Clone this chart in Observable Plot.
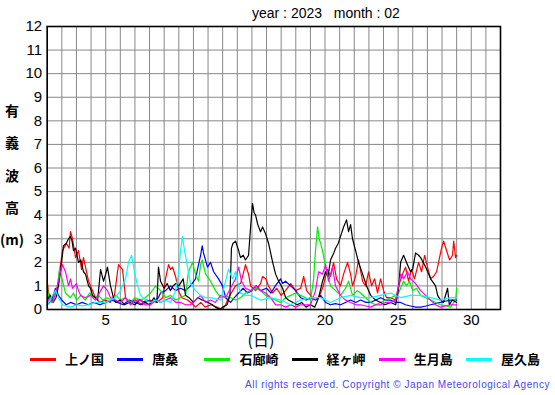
<!DOCTYPE html>
<html><head><meta charset="utf-8">
<script src="https://cdn.jsdelivr.net/npm/d3@7"></script>
<script src="https://cdn.jsdelivr.net/npm/@observablehq/plot@0.6"></script>
<style>
body{margin:0;background:#fff;}
#wrap{position:relative;width:555px;height:395px;overflow:hidden;font-family:"Liberation Sans",Arial,sans-serif;color:#000;}
#title{height:10px;line-height:26px;font-size:14px;white-space:pre;padding-left:252px;box-sizing:border-box;overflow:visible;position:relative;z-index:2;}
#ylab{position:absolute;left:0;top:0;width:24px;font-family:"Noto Sans CJK JP",sans-serif;font-weight:bold;font-size:14px;}
#ylab div{position:absolute;left:0;width:24px;text-align:center;height:20px;line-height:20px;}
#xlab{position:absolute;left:236px;width:50px;top:331px;height:16px;text-align:center;font-family:"Noto Sans CJK JP",sans-serif;font-size:16px;line-height:16px;}
#legend{position:absolute;left:30px;top:349px;display:flex;font-family:"Noto Sans CJK JP",sans-serif;font-weight:bold;font-size:13px;line-height:20px;}
.item{width:87.2px;display:flex;align-items:center;}
.sw{width:26px;height:3px;margin-right:9px;}
#copy{position:absolute;right:5px;top:378px;font-size:10px;letter-spacing:0.55px;color:#4848ee;line-height:14px;white-space:nowrap;}
svg{display:block;}
</style></head>
<body><div id="wrap">
<div id="title"></div>
<div id="chart"></div>
<div id="ylab"></div>
<div id="xlab"></div>
<div id="legend"></div>
<div id="copy"></div>
</div>
<script>
const titleText = "year : 2023   month : 02";
const yLabelChars = ["有", "義", "波", "高", "(m)"];
const xLabelText = "(日)";
const copyright = "All rights reserved. Copyright © Japan Meteorological Agency";
const xTicks = [5, 10, 15, 20, 25, 30];
const yTicks = [0,1,2,3,4,5,6,7,8,9,10,11,12];
const dayGrid = [1,2,3,4,5,6,7,8,9,10,11,12,13,14,15,16,17,18,19,20,21,22,23,24,25,26,27,28,29,30,31,32];
const stations = ["上ノ国", "唐桑", "石廊崎", "経ヶ岬", "生月島", "屋久島"];
const colors = ["#ff0000", "#0000ff", "#00ee00", "#000000", "#ff00ff", "#00ffff"];

// [day, significant wave height (m)]
const kaminokuni = [[1.0,1.2],[1.1,0.7],[1.3,0.5],[1.5,0.6],[1.7,0.9],[1.84,1.6],[2.05,2.5],[2.32,2.8],[2.5,2.6],[2.59,3.3],[2.73,3.0],[2.94,2.2],[3.14,2.5],[3.35,1.7],[3.48,2.2],[3.62,1.8],[3.83,1.2],[4.1,0.8],[4.3,0.5],[4.6,0.3],[5.0,0.4],[5.3,0.3],[5.6,0.6],[5.81,1.6],[5.88,1.9],[6.01,1.8],[6.15,1.7],[6.36,0.5],[6.56,0.3],[7.0,0.4],[7.5,0.2],[8.0,0.4],[8.5,0.3],[8.9,0.5],[9.09,1.3],[9.3,1.9],[9.43,1.7],[9.57,1.8],[9.78,1.4],[9.98,0.8],[10.2,0.5],[10.6,0.4],[11.0,0.2],[11.14,0.1],[11.5,0.3],[11.8,0.1],[12.2,0.2],[12.6,0.1],[12.99,0.0],[13.2,0.2],[13.4,0.5],[13.88,1.0],[14.22,1.1],[14.4,1.5],[14.56,1.9],[14.77,1.5],[14.91,1.0],[15.25,0.8],[15.59,1.1],[15.73,1.4],[15.94,1.3],[16.14,1.0],[16.4,0.7],[16.7,0.9],[17.0,0.6],[17.3,0.8],[17.65,1.1],[17.99,0.8],[18.33,0.9],[18.54,1.4],[18.74,0.8],[19.15,0.5],[19.56,0.5],[19.83,0.9],[20.17,1.7],[20.38,1.4],[20.58,2.0],[20.79,1.3],[21.06,1.0],[21.27,1.5],[21.54,2.0],[21.75,1.5],[21.88,1.0],[22.09,1.4],[22.29,2.1],[22.57,1.2],[22.77,1.0],[22.98,1.6],[23.18,1.0],[23.39,1.3],[23.59,0.7],[23.8,1.3],[24.01,0.8],[24.21,0.5],[24.48,0.5],[24.83,0.4],[25.03,1.0],[25.3,1.5],[25.51,1.8],[25.71,1.2],[25.92,1.7],[26.12,1.3],[26.4,2.0],[26.6,1.6],[26.81,2.3],[27.01,1.8],[27.22,1.3],[27.42,1.4],[27.63,1.6],[27.83,2.2],[27.97,2.6],[28.11,2.9],[28.31,2.5],[28.52,2.1],[28.72,2.3],[28.8,2.9],[28.93,2.2],[29.0,2.3]];
const karakuwa = [[1.0,0.2],[1.3,0.4],[1.57,0.9],[1.77,0.6],[2.0,0.4],[2.3,0.2],[2.6,0.3],[3.0,0.2],[3.4,0.3],[3.8,0.2],[4.2,0.3],[4.6,0.2],[5.0,0.3],[5.4,0.4],[5.8,0.3],[6.2,0.2],[6.6,0.4],[7.0,0.3],[7.4,0.2],[7.8,0.4],[8.2,0.3],[8.6,0.5],[8.75,0.7],[9.09,0.8],[9.43,1.0],[9.78,0.8],[10.12,0.9],[10.46,0.8],[10.8,1.0],[11.14,1.3],[11.35,1.9],[11.49,2.3],[11.6,2.7],[11.69,2.4],[11.96,1.8],[12.17,2.0],[12.38,1.6],[12.72,1.3],[12.99,1.0],[13.2,0.5],[13.54,0.3],[13.8,0.5],[14.1,0.7],[14.4,0.9],[14.7,0.7],[15.0,0.8],[15.3,1.0],[15.6,0.8],[16.0,0.9],[16.3,0.7],[16.6,1.0],[16.96,1.3],[17.1,1.1],[17.3,1.2],[17.65,1.0],[17.99,0.8],[18.33,0.5],[18.7,0.4],[19.0,0.5],[19.35,0.4],[19.7,0.6],[20.04,0.3],[20.38,0.2],[20.7,0.25],[21.06,0.2],[21.4,0.3],[21.75,0.4],[22.1,0.3],[22.43,0.4],[22.8,0.3],[23.12,0.3],[23.46,0.4],[23.8,0.5],[24.14,0.4],[24.48,0.4],[24.83,0.3],[25.17,0.3],[25.5,0.2],[25.85,0.15],[26.2,0.1],[26.54,0.1],[26.9,0.15],[27.22,0.2],[27.56,0.25],[27.9,0.3],[28.2,0.35],[28.59,0.4],[29.0,0.4]];
const irozaki = [[1.0,1.0],[1.1,0.5],[1.3,0.3],[1.5,0.6],[1.7,1.0],[1.84,1.7],[2.05,1.2],[2.25,0.7],[2.59,0.5],[2.8,0.7],[3.0,0.4],[3.3,0.6],[3.6,0.4],[3.9,0.7],[4.2,0.5],[4.5,0.6],[4.8,0.4],[5.1,0.5],[5.4,0.4],[5.7,0.6],[6.0,0.4],[6.3,0.5],[6.7,0.3],[7.0,0.5],[7.4,0.4],[7.7,0.5],[8.07,0.7],[8.41,1.0],[8.75,0.8],[9.1,0.5],[9.43,0.6],[9.8,0.4],[10.1,0.5],[10.46,0.6],[10.66,1.6],[10.94,2.0],[11.14,1.5],[11.35,1.2],[11.49,1.9],[11.6,2.1],[11.83,1.5],[12.17,1.2],[12.51,0.8],[12.86,0.5],[13.2,0.6],[13.54,0.5],[13.9,0.4],[14.22,0.5],[14.56,0.7],[14.91,0.8],[15.25,0.9],[15.59,0.8],[15.94,0.6],[16.28,0.5],[16.6,0.4],[16.96,0.3],[17.3,0.5],[17.65,0.6],[17.99,0.7],[18.33,0.6],[18.67,0.5],[19.01,0.4],[19.22,1.3],[19.35,2.5],[19.49,3.5],[19.6,3.0],[19.7,2.8],[19.83,2.5],[20.04,1.8],[20.38,1.0],[20.72,0.8],[21.06,0.6],[21.4,0.9],[21.61,1.2],[21.88,0.6],[22.2,0.8],[22.43,0.7],[22.77,0.5],[23.12,0.3],[23.46,0.2],[23.8,0.3],[24.14,0.4],[24.5,0.5],[24.83,0.6],[25.03,0.7],[25.37,1.2],[25.58,1.0],[25.78,1.2],[25.99,0.8],[26.26,0.9],[26.54,0.6],[26.88,0.5],[27.22,0.4],[27.56,0.3],[27.9,0.2],[28.3,0.15],[28.59,0.1],[28.8,0.3],[28.93,0.4],[29.0,0.9]];
const kyogamisaki = [[1.0,0.4],[1.2,0.6],[1.4,0.3],[1.6,0.5],[1.77,1.0],[1.91,1.6],[2.11,2.7],[2.3,2.8],[2.46,3.0],[2.59,3.1],[2.7,2.9],[2.8,2.5],[2.94,2.6],[3.14,2.0],[3.3,2.1],[3.48,1.6],[3.62,1.5],[3.83,1.0],[3.96,0.9],[4.1,0.6],[4.3,0.5],[4.45,0.4],[4.65,1.7],[4.85,1.2],[5.0,1.5],[5.12,1.8],[5.33,1.0],[5.53,0.5],[5.7,0.3],[6.0,0.4],[6.3,0.2],[6.6,0.3],[7.0,0.2],[7.3,0.4],[7.7,0.3],[8.0,0.2],[8.3,0.5],[8.5,0.3],[8.61,1.8],[8.75,1.2],[9.0,0.9],[9.2,1.1],[9.43,0.8],[9.6,1.0],[9.8,1.1],[10.0,1.0],[10.3,1.3],[10.46,0.6],[10.7,0.5],[11.0,0.3],[11.3,0.5],[11.6,0.4],[12.0,0.3],[12.3,0.2],[12.5,0.1],[12.8,0.0],[13.0,0.1],[13.3,0.2],[13.5,0.6],[13.6,2.6],[13.7,2.8],[13.88,2.9],[14.09,2.5],[14.22,2.2],[14.4,2.3],[14.56,2.1],[14.77,2.3],[14.91,3.5],[15.04,4.5],[15.15,4.1],[15.25,4.0],[15.4,3.6],[15.59,3.3],[15.73,3.5],[15.94,3.2],[16.14,2.8],[16.42,2.0],[16.62,1.5],[16.83,1.2],[17.1,0.9],[17.31,0.5],[17.5,0.4],[17.8,0.3],[18.1,0.2],[18.4,0.3],[18.7,0.1],[19.0,0.2],[19.3,0.1],[19.56,0.5],[19.83,1.2],[20.04,1.6],[20.2,1.4],[20.38,2.1],[20.6,2.4],[20.72,2.6],[20.9,2.8],[21.06,3.1],[21.27,3.5],[21.47,3.8],[21.61,3.3],[21.75,3.6],[21.88,3.0],[22.09,2.5],[22.29,2.0],[22.57,1.5],[22.84,1.0],[23.12,0.6],[23.46,0.4],[23.8,0.3],[24.1,0.2],[24.5,0.3],[24.83,0.2],[25.03,0.9],[25.17,2.0],[25.37,2.3],[25.64,1.9],[25.85,1.6],[25.99,1.7],[26.19,2.4],[26.4,2.3],[26.54,2.2],[26.88,1.8],[27.22,1.3],[27.56,1.0],[27.7,0.6],[27.9,0.4],[28.1,0.3],[28.38,0.9],[28.5,0.2],[28.7,0.4],[29.0,0.3]];
const ikitsukijima = [[1.0,0.3],[1.2,0.5],[1.4,0.3],[1.57,0.7],[1.77,1.2],[1.91,1.6],[2.05,1.9],[2.25,1.6],[2.46,1.0],[2.59,1.3],[2.73,0.9],[3.0,1.1],[3.14,0.8],[3.28,0.6],[3.6,0.5],[3.96,0.6],[4.3,0.4],[4.5,0.6],[4.65,0.8],[4.85,1.0],[5.12,0.8],[5.33,0.5],[5.67,0.4],[6.01,0.3],[6.36,0.5],[6.7,0.2],[7.0,0.4],[7.38,0.4],[7.7,0.2],[8.07,0.2],[8.4,0.4],[8.75,0.3],[9.1,0.4],[9.43,0.5],[9.8,0.3],[10.12,0.3],[10.46,0.2],[10.8,0.2],[11.14,0.4],[11.49,0.6],[11.83,0.3],[12.17,0.4],[12.5,0.3],[12.86,0.6],[13.2,0.5],[13.54,0.9],[13.88,1.3],[14.09,1.8],[14.29,1.2],[14.56,0.9],[14.91,0.8],[15.25,1.0],[15.59,0.8],[15.94,0.7],[16.28,0.5],[16.62,0.2],[16.96,0.2],[17.31,0.1],[17.65,0.2],[17.99,0.1],[18.33,0.2],[18.67,0.2],[19.01,0.2],[19.35,0.8],[19.56,1.6],[19.83,1.5],[20.04,1.9],[20.24,1.2],[20.51,1.8],[20.72,1.0],[21.06,0.6],[21.4,0.4],[21.75,0.3],[22.1,0.2],[22.43,0.2],[22.8,0.15],[23.12,0.1],[23.46,0.2],[23.8,0.2],[24.14,0.3],[24.48,0.3],[24.83,0.4],[25.03,1.0],[25.17,1.5],[25.37,1.3],[25.64,1.6],[25.85,1.3],[26.19,1.1],[26.54,0.8],[26.88,0.6],[27.22,0.4],[27.56,0.2],[27.9,0.1],[28.2,0.15],[28.59,0.2],[29.0,0.2]];
const yakushima = [[1.0,0.2],[1.2,0.4],[1.36,0.6],[1.57,0.8],[1.77,0.5],[2.05,0.2],[2.3,0.15],[2.6,0.1],[3.0,0.2],[3.4,0.15],[3.8,0.2],[4.3,0.3],[4.65,0.3],[5.0,0.3],[5.33,0.4],[5.67,0.5],[6.01,0.8],[6.36,1.3],[6.56,2.0],[6.77,2.3],[6.97,1.6],[7.18,1.0],[7.38,0.6],[7.72,0.4],[8.07,0.3],[8.41,0.4],[8.75,0.3],[9.09,0.4],[9.43,0.3],[9.78,0.8],[9.98,1.5],[10.12,2.5],[10.25,3.1],[10.39,2.5],[10.6,1.8],[10.8,1.1],[11.14,0.8],[11.49,0.6],[11.83,0.5],[12.17,0.5],[12.86,0.4],[13.2,1.2],[13.4,1.7],[13.68,1.3],[13.88,1.6],[14.09,1.0],[14.22,0.7],[14.56,0.6],[14.91,0.6],[15.59,0.4],[16.28,0.5],[16.96,0.4],[17.65,0.2],[18.33,0.4],[19.01,0.5],[19.7,0.5],[20.38,0.3],[21.06,0.5],[21.75,0.6],[22.43,0.5],[23.12,0.5],[23.8,0.6],[24.48,0.7],[25.17,0.5],[25.85,0.6],[26.54,0.6],[27.22,0.5],[27.9,0.4],[28.59,0.5],[29.0,0.5]];

const seriesList = [kaminokuni, karakuwa, irozaki, kyogamisaki, ikitsukijima, yakushima];
const rows = [];
seriesList.forEach((s, i) => s.forEach(([d, h]) => rows.push({day: d, h, name: stations[i]})));

document.getElementById("title").textContent = titleText;
document.getElementById("xlab").textContent = xLabelText;
document.getElementById("copy").textContent = copyright;
const ylab = document.getElementById("ylab");
yLabelChars.forEach((c, i) => {
  const d = document.createElement("div");
  d.textContent = c;
  d.style.top = (100 + i * 32.3) + "px";
  ylab.appendChild(d);
});
const legend = document.getElementById("legend");
stations.forEach((s, i) => {
  const it = document.createElement("div"); it.className = "item";
  const sw = document.createElement("div"); sw.className = "sw"; sw.style.background = colors[i];
  const tx = document.createElement("span"); tx.textContent = s;
  it.appendChild(sw); it.appendChild(tx); legend.appendChild(it);
});

const chart = Plot.plot({
  width: 555,
  height: 340,
  marginLeft: 46.7,
  marginRight: 55,
  marginTop: 16,
  marginBottom: 41,
  style: {fontSize: "15px", fontFamily: "'Liberation Sans', Arial, sans-serif", background: "transparent", color: "#000"},
  x: {domain: [1, 32], ticks: xTicks, tickSize: 0, tickPadding: 5, label: null},
  y: {domain: [0, 12], ticks: yTicks, tickSize: 0, tickPadding: 5, label: null},
  color: {domain: stations, range: colors},
  marks: [
    Plot.ruleX(dayGrid, {stroke: "#888888", strokeWidth: 1}),
    Plot.ruleY(yTicks, {stroke: "#888888", strokeWidth: 1}),
    Plot.line(rows, {x: "day", y: "h", z: "name", stroke: "name", strokeWidth: 1.2}),
    Plot.frame({stroke: "#000", strokeWidth: 1.6})
  ]
});
document.getElementById("chart").appendChild(chart);
</script>
</body></html>
